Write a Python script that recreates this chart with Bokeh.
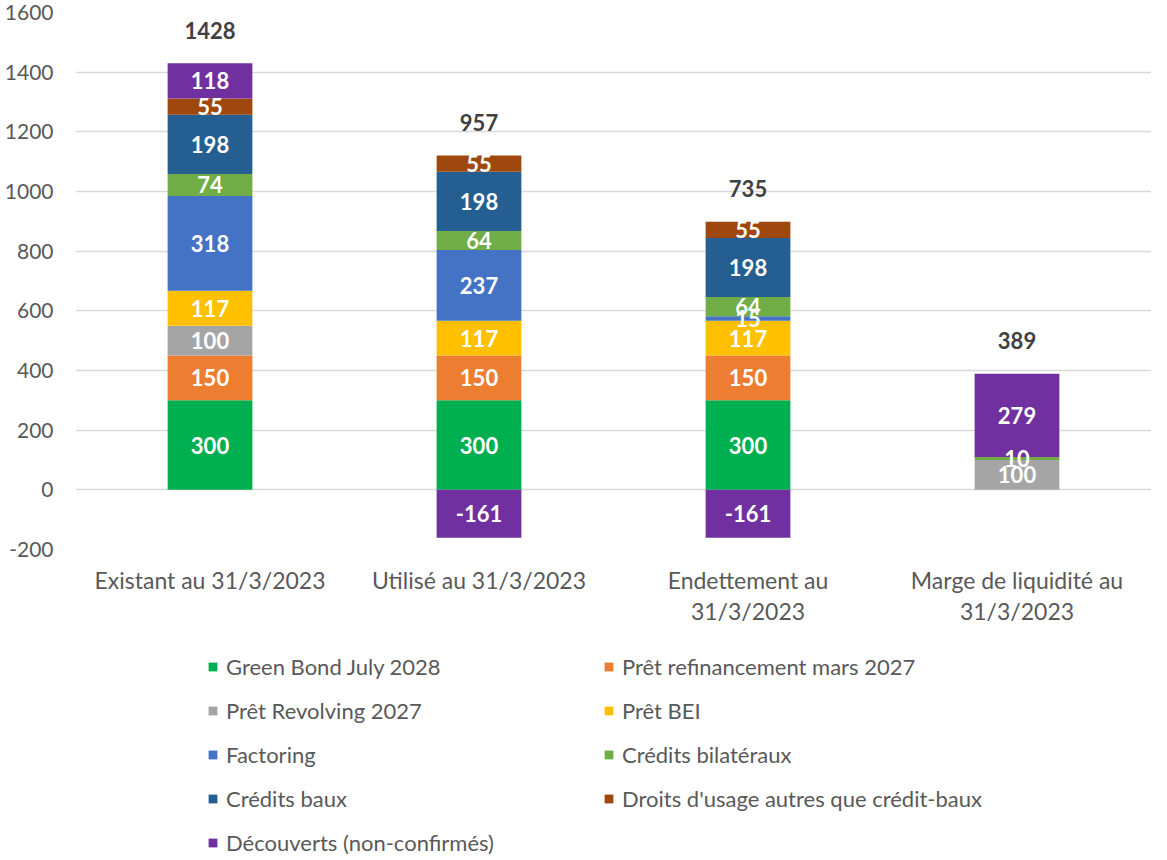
import numpy as np
from bokeh.plotting import figure
from bokeh.layouts import column
from bokeh.models import (ColumnDataSource, Range1d, Legend, LegendItem, FixedTicker,
                          CategoricalAxis, CustomJSTickFormatter)
from bokeh.core.properties import value
from bokeh.embed import file_html
from bokeh.resources import INLINE

categories = ["Existant au 31/3/2023", "Utilisé au 31/3/2023",
              "Endettement au 31/3/2023", "Marge de liquidité au 31/3/2023"]
label_line1 = ["Existant au 31/3/2023", "Utilisé au 31/3/2023",
               "Endettement au", "Marge de liquidité au"]
label_line2 = ["", "", "31/3/2023", "31/3/2023"]

series_names = ["Green Bond July 2028", "Prêt refinancement mars 2027", "Prêt Revolving 2027",
                "Prêt BEI", "Factoring", "Crédits bilatéraux", "Crédits baux",
                "Droits d'usage autres que crédit-baux", "Découverts (non-confirmés)"]
colors = ["#00B050", "#ED7D31", "#A5A5A5", "#FFC000", "#4472C4", "#70AD47", "#255E91",
          "#9E480E", "#7030A0"]

green_bond = [300, 300, 300, 0]
pret_refi = [150, 150, 150, 0]
revolving = [100, 0, 0, 100]
pret_bei = [117, 117, 117, 0]
factoring = [318, 237, 15, 0]
bilateraux = [74, 64, 64, 10]
credits_baux = [198, 198, 198, 0]
droits_usage = [55, 55, 55, 0]
decouverts = [118, -161, -161, 279]

totals = [1428, 957, 735, 389]

series = [green_bond, pret_refi, revolving, pret_bei, factoring, bilateraux,
          credits_baux, droits_usage, decouverts]

FONT = "Lato"
TXT = "#595959"

p = figure(x_range=categories, y_range=Range1d(-200, 1600),
           frame_width=1076, frame_height=537,
           output_backend="svg", toolbar_location=None,
           min_border_left=75, min_border_right=0, min_border_top=12, min_border_bottom=90)
p.outline_line_color = None

bar_w = 0.315
pos_base = np.zeros(len(categories))
neg_base = np.zeros(len(categories))
lab_x, lab_y, lab_t = [], [], []
for name, col, vals in zip(series_names, colors, series):
    v = np.array(vals, dtype=float)
    pos = np.maximum(v, 0)
    neg = np.minimum(v, 0)
    src = ColumnDataSource(dict(x=categories, top=pos_base + pos, bottom=pos_base.copy()))
    p.vbar(x="x", top="top", bottom="bottom", width=bar_w, source=src,
           fill_color=col, line_color=None)
    if np.any(neg < 0):
        srcn = ColumnDataSource(dict(x=categories, top=neg_base.copy(), bottom=neg_base + neg))
        p.vbar(x="x", top="top", bottom="bottom", width=bar_w, source=srcn,
               fill_color=col, line_color=None)
    for i in range(len(categories)):
        if v[i] > 0:
            lab_x.append(categories[i]); lab_y.append(pos_base[i] + v[i] / 2); lab_t.append(str(int(v[i])))
        elif v[i] < 0:
            lab_x.append(categories[i]); lab_y.append(neg_base[i] + v[i] / 2); lab_t.append(str(int(v[i])))
    pos_base = pos_base + pos
    neg_base = neg_base + neg

lab_src = ColumnDataSource(dict(x=lab_x, y=lab_y, t=lab_t))
p.text(x="x", y="y", text="t", source=lab_src, text_color="white",
       text_font=value(FONT), text_font_style="bold", text_font_size="22px",
       text_align="center", text_baseline="middle")

tot_src = ColumnDataSource(dict(x=categories, y=list(pos_base), t=[str(t) for t in totals]))
p.text(x="x", y="y", text="t", source=tot_src, text_color="#404040",
       text_font=value(FONT), text_font_style="bold", text_font_size="22px",
       text_align="center", text_baseline="middle", y_offset=-33)

# y axis
p.yaxis.ticker = FixedTicker(ticks=list(range(-200, 1601, 200)))
p.yaxis.formatter = CustomJSTickFormatter(code="return String(tick);")
p.yaxis.axis_line_color = None
p.yaxis.major_tick_line_color = None
p.yaxis.minor_tick_line_color = None
p.yaxis.major_tick_out = 0
p.yaxis.major_label_text_font = FONT
p.yaxis.major_label_text_font_size = "21px"
p.yaxis.major_label_text_color = TXT
p.yaxis.major_label_standoff = 22

# x axis: two stacked category axes for the two label lines
def style_xaxis(ax, standoff, lines):
    ax.axis_line_color = None
    ax.major_tick_line_color = None
    ax.minor_tick_line_color = None
    ax.major_tick_out = 0
    ax.major_tick_in = 0
    ax.major_label_text_font = FONT
    ax.major_label_text_font_size = "23px"
    ax.major_label_text_color = TXT
    ax.major_label_standoff = standoff
    ax.formatter = CustomJSTickFormatter(
        args=dict(keys=categories, vals=lines),
        code="const i = keys.indexOf(tick); return i >= 0 ? vals[i] : tick;")

style_xaxis(p.xaxis[0], 16, label_line1)
ax2 = CategoricalAxis()
style_xaxis(ax2, 0, label_line2)
p.add_layout(ax2, "below")

p.xgrid.grid_line_color = None
p.ygrid.grid_line_color = "#D9D9D9"
p.ygrid.grid_line_width = 1.5

# legend figure
p2 = figure(width=1151, height=217, x_range=Range1d(0, 1151), y_range=Range1d(0, 217),
            output_backend="svg", toolbar_location=None,
            x_axis_location=None, y_axis_location=None,
            min_border_left=0, min_border_right=0, min_border_top=0, min_border_bottom=0)
p2.outline_line_color = None
p2.xgrid.grid_line_color = None
p2.ygrid.grid_line_color = None

items = []
for name, col in zip(series_names, colors):
    r = p2.vbar(x=[-500], top=[-500], bottom=[-600], width=1, fill_color=col, line_color=None)
    items.append(LegendItem(label=name, renderers=[r]))

legend = Legend(items=items, ncols=2, orientation="horizontal", location=(132, 0),
                label_text_font=FONT, label_text_font_size="22px",
                label_text_color=TXT, glyph_width=11, glyph_height=11,
                label_standoff=8, label_width=360, label_height=22, spacing=17,
                border_line_color=None, background_fill_alpha=0, padding=0, margin=0)
p2.add_layout(legend, "center")

open("out.html", "w").write(file_html(column(p, p2, spacing=0), INLINE))
